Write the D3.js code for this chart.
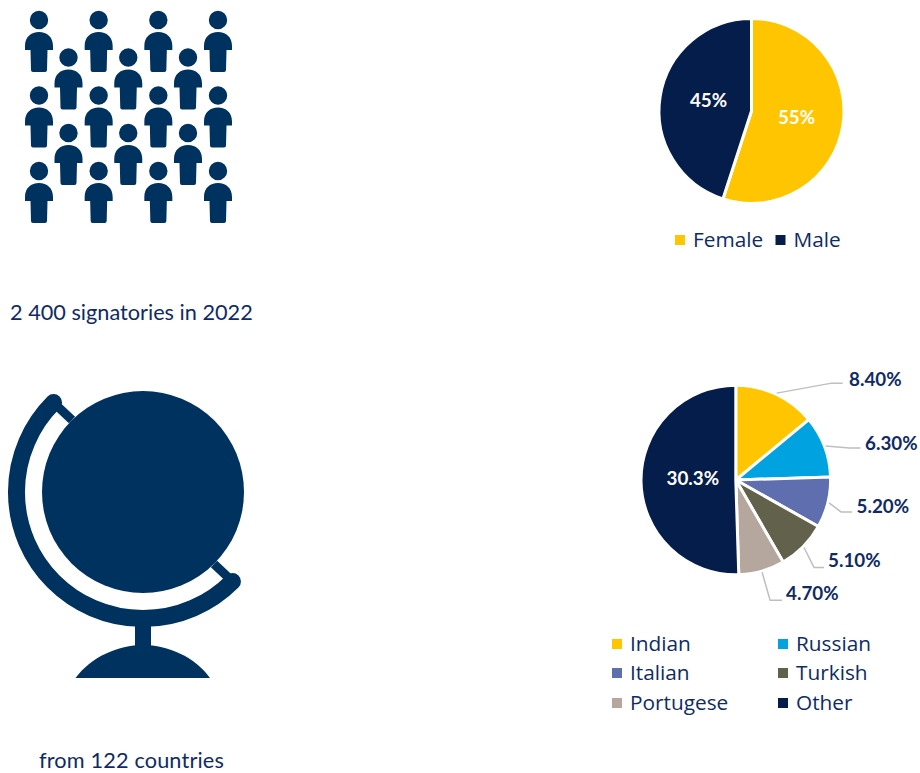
<!DOCTYPE html>
<meta charset="utf-8">
<style>
    html, body { margin: 0; padding: 0; background: #fff; }
    svg { display: block; }
    text { font-family: Lato, sans-serif; }
    .legend { font-family: "Open Sans", sans-serif; font-size: 20.8px; fill: #0e2b66; }
    .caption { font-size: 21.7px; fill: #0e2b66; }
    .value { font-size: 18.8px; font-weight: 700; }
</style>
<body>
    <script src="https://d3js.org/d3.v7.min.js"></script>
    <script>
        // gender split
        const genderNames = ["Female", "Male"];
        const genderValues = [55, 45];
        const genderLabels = ["55%", "45%"];

        // mother tongue split, the labels add up to 60 and the slices follow that
        const languageNames = ["Indian", "Russian", "Italian", "Turkish", "Portugese", "Other"];
        const languageValues = [8.4, 6.3, 5.2, 5.1, 4.7, 30.3];
        const languageLabels = ["8.40%", "6.30%", "5.20%", "5.10%", "4.70%", "30.3%"];

        // people icon grid: columns and rows of the two staggered sets
        const peopleColumns = [0, 1, 2, 3];
        const peopleRows = [0, 1, 2];
        const staggerColumns = [0, 1, 2];
        const staggerRows = [0, 1];

        const captions = ["2 400 signatories in 2022", "from 122 countries"];

        const width = 920;
        const height = 773;
        const navy = "#051d4a";
        const iconBlue = "#00315f";
        const textBlue = "#0e2b66";
        const lineGrey = "#bfbfbf";

        const genderColor = d3.scaleOrdinal(genderNames, ["#ffc600", navy]);
        const languageColor = d3.scaleOrdinal(languageNames,
            ["#ffc600", "#00a3e0", "#5f6eae", "#62624c", "#b5a69e", navy]);

        let svg = d3.select("body").append("svg")
            .attr("width", width)
            .attr("height", height);

        // the icons are soft edged bitmaps in the original
        svg.append("defs").append("filter")
            .attr("id", "soft")
            .append("feGaussianBlur")
                .attr("stdDeviation", 0.45);

        const pie = d3.pie().sort(null).value(d => d.value);

        function zipRows(names, values, labels) {
            return names.map((name, i) => ({ name: name, value: values[i], label: labels[i] }));
        }

        function drawPie(rows, color, cx, cy, radius) {
            let g = svg.append("g").attr("transform", "translate(" + cx + "," + cy + ")");
            let arc = d3.arc().innerRadius(0).outerRadius(radius);
            let slices = pie(rows);
            g.selectAll("path")
                .data(slices)
                .join("path")
                    .attr("d", arc)
                    .attr("fill", d => color(d.data.name))
                    .attr("stroke", "#fff")
                    .attr("stroke-width", 3)
                    .attr("stroke-linejoin", "miter");
            return { g: g, slices: slices, radius: radius };
        }

        function drawLegend(names, color, xs, ys) {
            let items = svg.append("g").selectAll("g")
                .data(names)
                .join("g")
                    .attr("transform", (d, i) => "translate(" + xs[i] + "," + ys[i] + ")");
            items.append("rect")
                .attr("x", 0).attr("y", -5)
                .attr("width", 10).attr("height", 10)
                .attr("fill", d => color(d));
            items.append("text")
                .attr("class", "legend")
                .attr("x", 18)
                .attr("dy", "0.35em")
                .text(d => d);
        }

        // ---- gender pie ----
        let genderPie = drawPie(zipRows(genderNames, genderValues, genderLabels), genderColor, 751.5, 111, 92.5);
        const genderTextPos = [[45, 6], [-43, -11]];
        genderPie.g.selectAll("text.value")
            .data(genderPie.slices)
            .join("text")
                .attr("class", "value")
                .attr("fill", "#fff")
                .attr("text-anchor", "middle")
                .attr("dy", "0.35em")
                .attr("x", (d, i) => genderTextPos[i][0])
                .attr("y", (d, i) => genderTextPos[i][1])
                .text(d => d.data.label);
        drawLegend(genderNames, genderColor, [675, 775.5], [240, 240]);

        // ---- language pie ----
        let languagePie = drawPie(zipRows(languageNames, languageValues, languageLabels), languageColor, 735.8, 480, 94.8);

        // elbow and end of each leader line relative to where it leaves the slice,
        // then the centre of the label relative to the pie
        const leaderShape = [
            [[55, -10], [66, -10]],
            [[24, 2], [35, 2]],
            [[12, 9], [23, 9]],
            [[10, 20], [20, 20]],
            [[8, 28], [20, 28]]
        ];
        const labelPos = [[139.5, -101], [155.5, -37], [147, 26], [118.5, 80], [76.5, 113], [-43, -2]];
        const startArc = d3.arc().innerRadius(96).outerRadius(96);

        languagePie.g.selectAll("polyline")
            .data(languagePie.slices.slice(0, 5))
            .join("polyline")
                .attr("fill", "none")
                .attr("stroke", lineGrey)
                .attr("stroke-width", 1.5)
                .attr("points", (d, i) => {
                    let s = startArc.centroid(d);
                    return [s, [s[0] + leaderShape[i][0][0], s[1] + leaderShape[i][0][1]],
                               [s[0] + leaderShape[i][1][0], s[1] + leaderShape[i][1][1]]].join(" ");
                });

        languagePie.g.selectAll("text.value")
            .data(languagePie.slices)
            .join("text")
                .attr("class", "value")
                .attr("fill", d => d.data.name === "Other" ? "#fff" : textBlue)
                .attr("text-anchor", "middle")
                .attr("dy", "0.35em")
                .attr("x", (d, i) => labelPos[i][0])
                .attr("y", (d, i) => labelPos[i][1])
                .text(d => d.data.label);

        drawLegend(languageNames, languageColor,
            [612, 778, 612, 778, 612, 778],
            [644, 644, 673, 673, 703, 703]);

        // ---- people icon ----
        const personX = d3.scalePoint().domain(peopleColumns).range([39, 218]);
        const personY = d3.scalePoint().domain(peopleRows).range([20, 171]);
        const staggerX = d3.scalePoint().domain(staggerColumns).range([68.5, 188]);
        const staggerY = d3.scalePoint().domain(staggerRows).range([57.5, 133]);

        function personPath() {
            // head centre sits at 0,0
            let p = d3.path();
            p.moveTo(-14, 30);
            p.lineTo(-14, 26);
            p.bezierCurveTo(-14, 17, -8, 12, 0, 12);
            p.bezierCurveTo(8, 12, 14, 17, 14, 26);
            p.lineTo(14, 30);
            p.lineTo(8.5, 30);
            p.lineTo(8, 50);
            p.quadraticCurveTo(8, 52, 6, 52);
            p.lineTo(-6, 52);
            p.quadraticCurveTo(-8, 52, -8, 50);
            p.lineTo(-8.5, 30);
            p.closePath();
            p.moveTo(9.2, 0);
            p.arc(0, 0, 9.2, 0, 2 * Math.PI);
            return p.toString();
        }

        let people = d3.cross(peopleColumns, peopleRows).map(d => [personX(d[0]), personY(d[1])])
            .concat(d3.cross(staggerColumns, staggerRows).map(d => [staggerX(d[0]), staggerY(d[1])]));

        svg.append("g").attr("filter", "url(#soft)").selectAll("path")
            .data(people)
            .join("path")
                .attr("d", personPath())
                .attr("fill", iconBlue)
                .attr("transform", d => "translate(" + d[0] + "," + d[1] + ")");

        // ---- globe icon ----
        let globe = svg.append("g")
            .attr("transform", "translate(143,492)")
            .attr("filter", "url(#soft)")
            .attr("fill", iconBlue);
        globe.append("circle").attr("r", 101);
        let standPath = d3.path();
        standPath.arc(0, 0, 126.5, -Math.PI * 0.75, Math.PI * 0.25, true);
        globe.append("path")
            .attr("d", standPath.toString())
            .attr("fill", "none")
            .attr("stroke", iconBlue)
            .attr("stroke-width", 17)
            .attr("stroke-linecap", "round");
        globe.selectAll("line.arm")
            .data([[-88, -88, -71, -72], [71, 72, 88, 88]])
            .join("line")
                .attr("x1", d => d[0]).attr("y1", d => d[1])
                .attr("x2", d => d[2]).attr("y2", d => d[3])
                .attr("stroke", iconBlue)
                .attr("stroke-width", 9);
        globe.append("rect").attr("x", -8).attr("y", 130).attr("width", 16).attr("height", 26);
        globe.append("path").attr("d", "M-67.5,186 C-52,165 -25,153 0,153 C25,153 52,165 67,186 Z");

        // ---- captions ----
        svg.append("text").attr("class", "caption")
            .attr("x", 10).attr("y", 312).attr("dy", "0.35em").text(captions[0]);
        svg.append("text").attr("class", "caption")
            .attr("x", 39).attr("y", 760).attr("dy", "0.35em")
            .style("letter-spacing", "0.15px")
            .text(captions[1]);
    </script>
</body>
